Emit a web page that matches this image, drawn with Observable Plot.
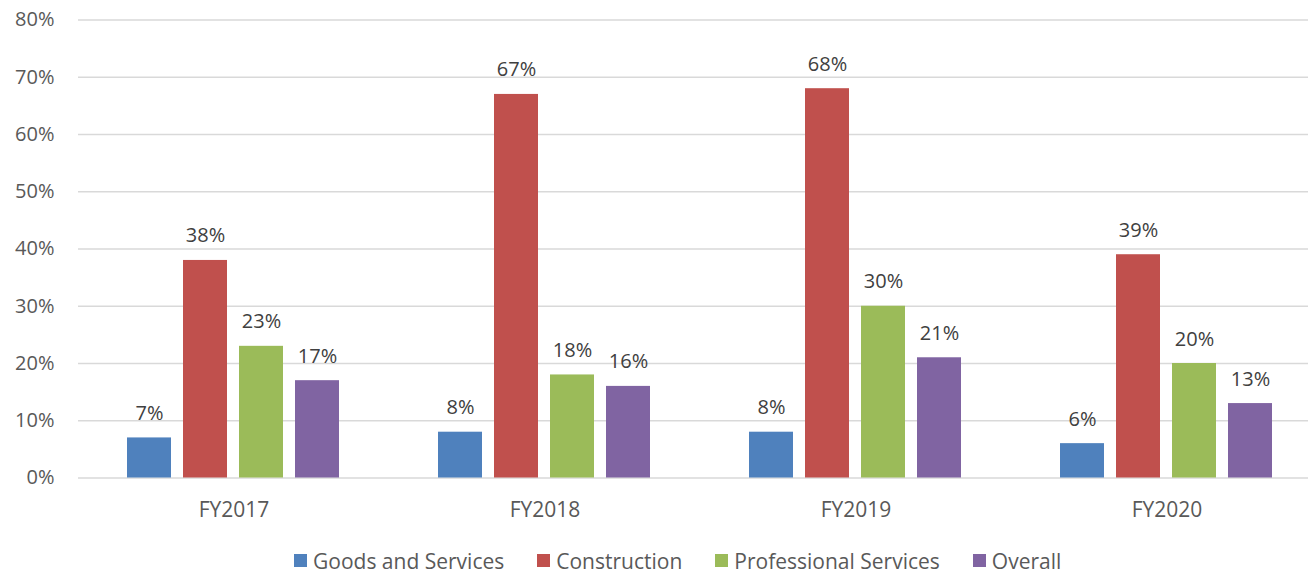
<!DOCTYPE html>
<html>
<head>
<meta charset="utf-8">
<script src="https://cdn.jsdelivr.net/npm/d3@7"></script>
<script src="https://cdn.jsdelivr.net/npm/@observablehq/plot@0.6"></script>
<style>
  html, body { margin: 0; padding: 0; background: white; width: 1308px; height: 574px; overflow: hidden; position: relative; }
  #chart { position: absolute; left: 0; top: 0; width: 1323px; }
  #legend { position: absolute; left: 294px; top: 530px; height: 44px; display: flex; align-items: center; padding-top: 17px; box-sizing: border-box;
            font-family: "Open Sans", sans-serif; font-size: 21px; color: #595959; white-space: nowrap; }
  .item { display: flex; align-items: center; margin-right: 33px; }
  .sw { width: 13px; height: 13px; margin-right: 6px; }
</style>
</head>
<body>
<div id="chart"></div>
<div id="legend"></div>
<script>
const years = ["FY2017", "FY2018", "FY2019", "FY2020"];
const series = ["Goods and Services", "Construction", "Professional Services", "Overall"];
const goodsAndServices = [7, 8, 8, 6];
const construction = [38, 67, 68, 39];
const professionalServices = [23, 18, 30, 20];
const overall = [17, 16, 21, 13];
const colors = ["#4F81BD", "#C0504D", "#9BBB59", "#8064A2"];
const yTicks = [0, 10, 20, 30, 40, 50, 60, 70, 80];

const valuesBySeries = [goodsAndServices, construction, professionalServices, overall];
const data = [];
years.forEach((year, i) => {
  series.forEach((s, j) => {
    data.push({year, series: s, value: valuesBySeries[j][i]});
  });
});

const chart = Plot.plot({
  width: 1323,
  height: 530,
  marginLeft: 77,
  marginRight: 0,
  marginTop: 19.5,
  marginBottom: 52.5,
  style: {fontFamily: "'Open Sans', sans-serif", fontSize: "20px", color: "#595959", background: "white", maxWidth: "none"},
  fx: {domain: years, paddingInner: 0, paddingOuter: 0, label: null, axis: null},
  x: {domain: series, paddingInner: 0.212, paddingOuter: 0.861, axis: null},
  y: {domain: [0, 80], ticks: yTicks, tickFormat: d => d + "%", label: null, tickSize: 0, tickPadding: 24},
  color: {domain: series, range: colors},
  marks: [
    Plot.gridY(yTicks, {stroke: "#d9d9d9", strokeOpacity: 1, strokeWidth: 1.5}),
    Plot.axisFx({anchor: "bottom", tickSize: 0, tickPadding: 24, fontSize: 21, label: null}),
    Plot.barY(data, {fx: "year", x: "series", y: "value", fill: "series"}),
    Plot.text(data, {fx: "year", x: "series", y: "value", text: d => d.value + "%", dy: -18, lineAnchor: "bottom", fill: "#404040", fontSize: 20})
  ]
});
chart.style.maxWidth = "none";
document.getElementById("chart").appendChild(chart);

const legend = document.getElementById("legend");
series.forEach((s, i) => {
  const item = document.createElement("div");
  item.className = "item";
  const sw = document.createElement("div");
  sw.className = "sw";
  sw.style.background = colors[i];
  const t = document.createElement("span");
  t.textContent = s;
  item.appendChild(sw);
  item.appendChild(t);
  legend.appendChild(item);
});
</script>
</body>
</html>
